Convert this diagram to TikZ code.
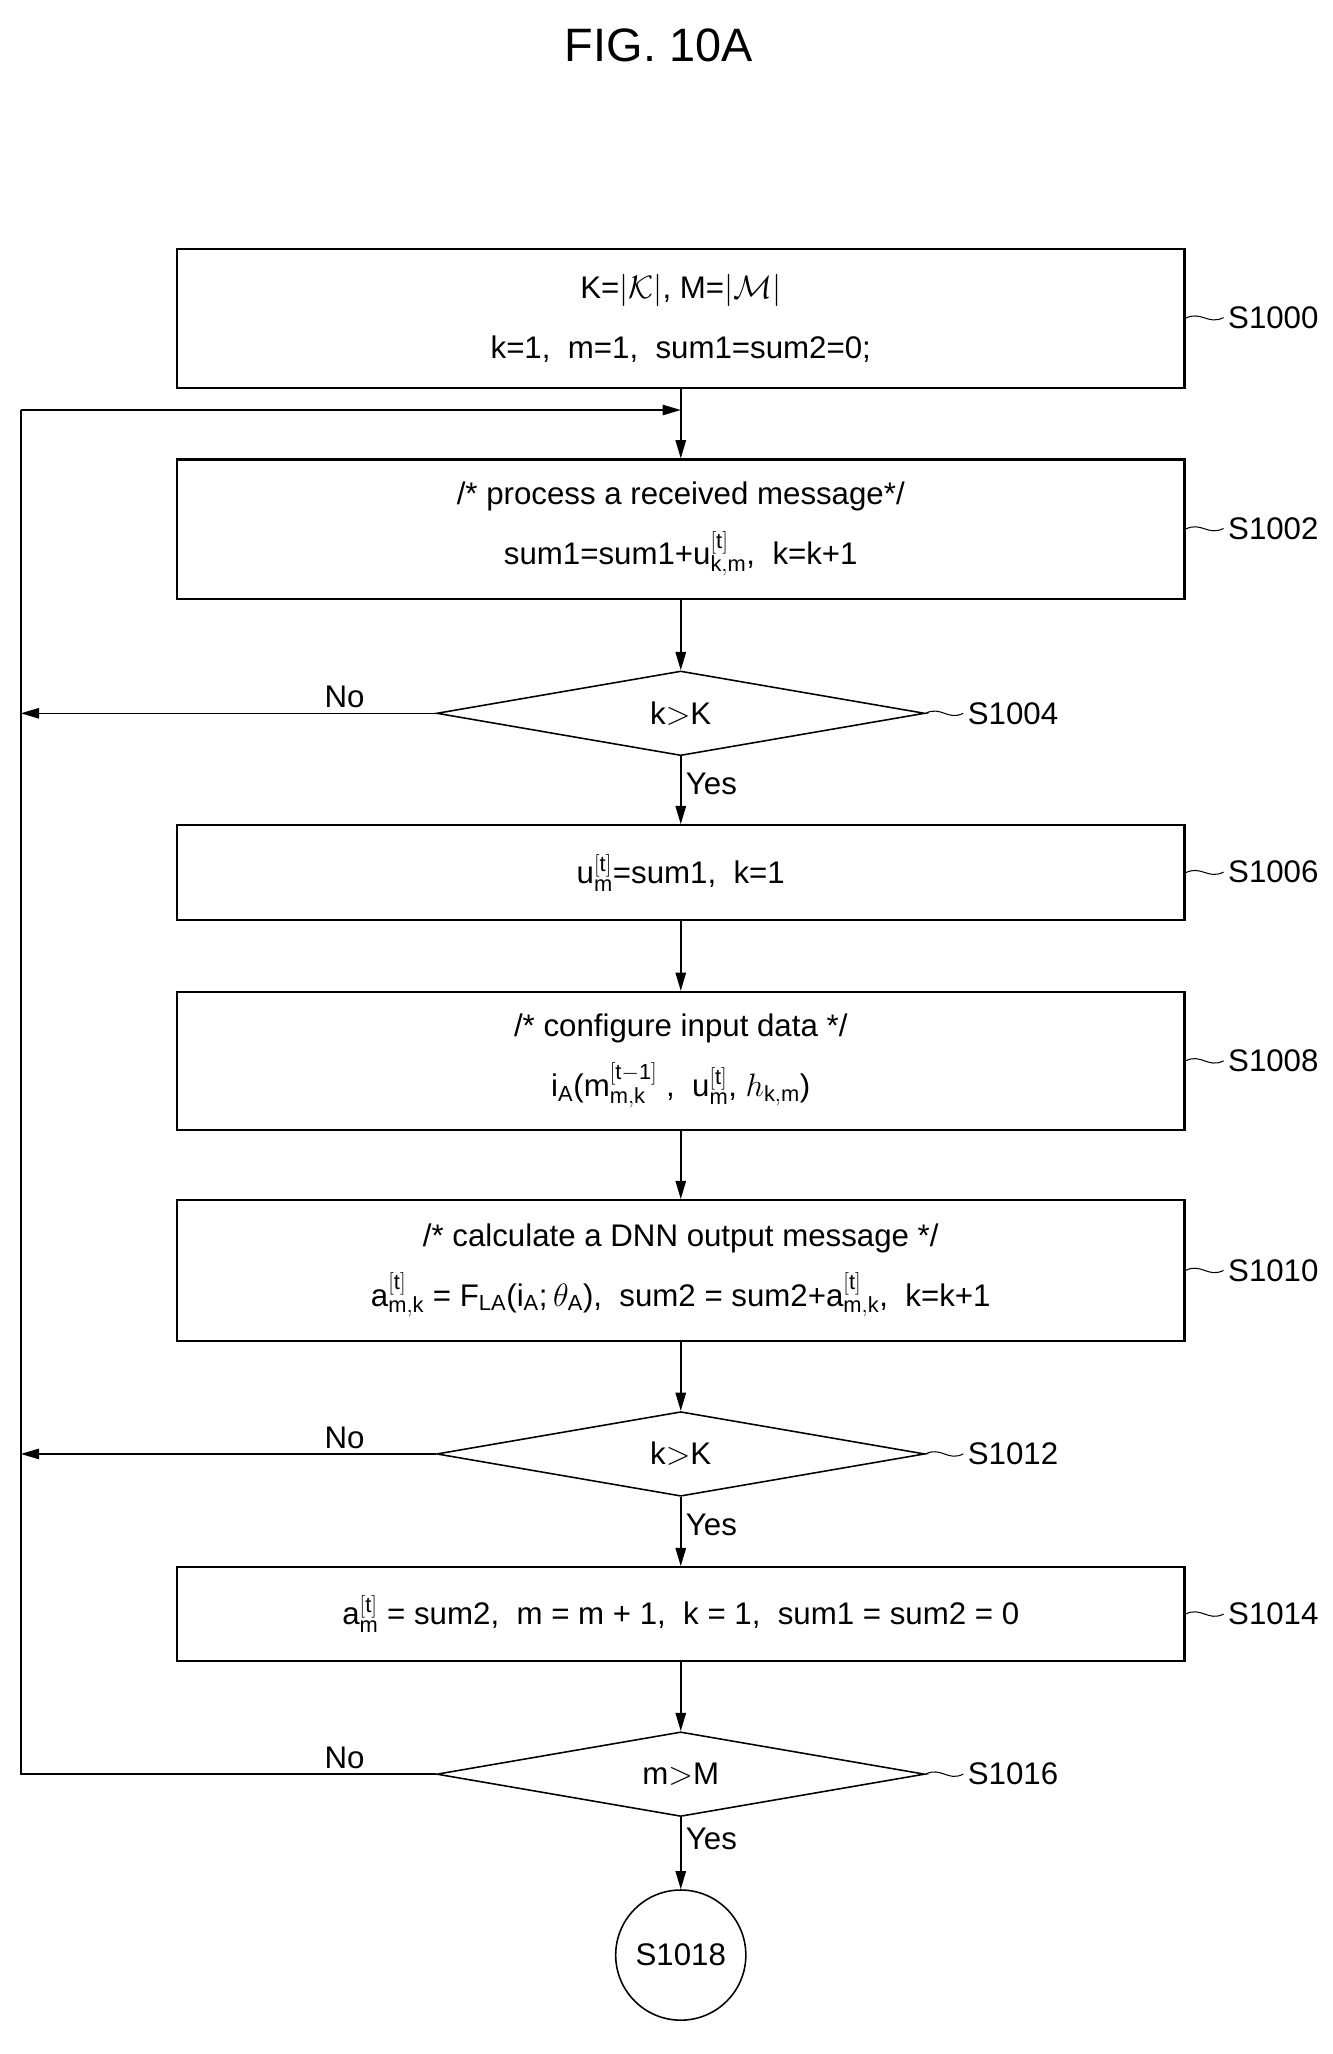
\documentclass[tikz,border=0pt]{standalone}
\usepackage{fontspec}
\setmainfont{Liberation Sans}
\usetikzlibrary{shapes.geometric,arrows.meta}
\begin{document}
\begin{tikzpicture}[x=1pt,y=-1pt,
  every node/.style={font=\fontsize{24}{46}\selectfont},
  box/.style={draw,line width=1.6pt,minimum width=774pt,align=center,inner sep=0pt},
  dia/.style={draw,line width=1.2pt,diamond,aspect=5.8,minimum width=375pt,minimum height=65pt,inner sep=0pt},
  arr/.style={line width=1.2pt,-{Triangle[length=14pt,width=8pt]}},
  ln/.style={line width=1.2pt},
  lab/.style={anchor=west},
  lead/.style={line width=0.8pt}]
\useasboundingbox (0,0) rectangle (1024,1578);
\node[font=\fontsize{36}{40}\selectfont] (title) at (506,35) {FIG. 10A};
\node[box,minimum height=107pt] (b0) at (523,244.5) {K=$|\mathcal{K}|$, M=$|\mathcal{M}|$\\ k=1,\ \ m=1,\ \ sum1=sum2=0;};
\node[box,minimum height=107pt] (b2) at (523,406.5) {/* process a received message*/\\ sum1=sum1+u$^{\mathrm{[t]}}_{\mathrm{k,m}}$,\ \ k=k+1};
\node[dia] (d4) at (523,548) {k$>$K};
\node[box,minimum height=73pt] (b6) at (523,670.5) {u$^{\mathrm{[t]}}_{\mathrm{m}}$=sum1,\ \ k=1};
\node[box,minimum height=106pt] (b8) at (523,815) {/* configure input data */\\ i$_\mathrm{A}$(m$^{\mathrm{[t-1]}}_{\mathrm{m,k}}$ ,\ \ u$^{\mathrm{[t]}}_{\mathrm{m}}$, $h_{\mathrm{k,m}}$)};
\node[box,minimum height=108pt] (b10) at (523,976) {/* calculate a DNN output message */\\ a$^{\mathrm{[t]}}_{\mathrm{m,k}}$ = F$_{\mathrm{LA}}$(i$_\mathrm{A}$;$\,\theta_\mathrm{A}$),\ \ sum2 = sum2+a$^{\mathrm{[t]}}_{\mathrm{m,k}}$,\ \ k=k+1};
\node[dia] (d12) at (523,1117) {k$>$K};
\node[box,minimum height=72pt] (b14) at (523,1240) {a$^{\mathrm{[t]}}_{\mathrm{m}}$ = sum2,\ \ m = m + 1,\ \ k = 1,\ \ sum1 = sum2 = 0};
\node[dia] (d16) at (523,1363) {m$>$M};
\node[draw,circle,line width=1.2pt,minimum size=100pt,inner sep=0pt] (c18) at (523,1502) {S1018};
\node[lab] (s0) at (940,244) {S1000};
\node[lab] (s2) at (940,406) {S1002};
\node[lab] (s4) at (740,548) {S1004};
\node[lab] (s6) at (940,670) {S1006};
\node[lab] (s8) at (940,815) {S1008};
\node[lab] (s10) at (940,976) {S1010};
\node[lab] (s12) at (740,1117) {S1012};
\node[lab] (s14) at (940,1240) {S1014};
\node[lab] (s16) at (740,1363) {S1016};
\foreach \a/\b in {b0/s0,b2/s2,d4/s4,b6/s6,b8/s8,b10/s10,d12/s12,b14/s14,d16/s16}
  \draw[lead] (\a.east) .. controls +(12,-6) and +(-12,6) .. (\b.west);
\coordinate (j) at (523,315);
\coordinate (L0) at (16,315);
\coordinate (L4) at (16,548);
\coordinate (L12) at (16,1117);
\coordinate (L16) at (16,1363);
\draw[ln] (b0.south) -- (j);
\draw[arr] (j) -- (b2.north);
\draw[arr] (b2.south) -- (d4.north);
\draw[arr] (d4.south) -- node[right,pos=0.4]{Yes} (b6.north);
\draw[arr] (b6.south) -- (b8.north);
\draw[arr] (b8.south) -- (b10.north);
\draw[arr] (b10.south) -- (d12.north);
\draw[arr] (d12.south) -- node[right,pos=0.4]{Yes} (b14.north);
\draw[arr] (b14.south) -- (d16.north);
\draw[arr] (d16.south) -- node[right,pos=0.3]{Yes} (c18.north);
\draw[arr] (d4.west) -- node[above,pos=0.22]{No} (L4);
\draw[arr] (d12.west) -- node[above,pos=0.22]{No} (L12);
\draw[ln] (d16.west) -- node[above,pos=0.22]{No} (L16) -- (L0);
\draw[arr] (L0) -- (j);
\end{tikzpicture}
\end{document}
